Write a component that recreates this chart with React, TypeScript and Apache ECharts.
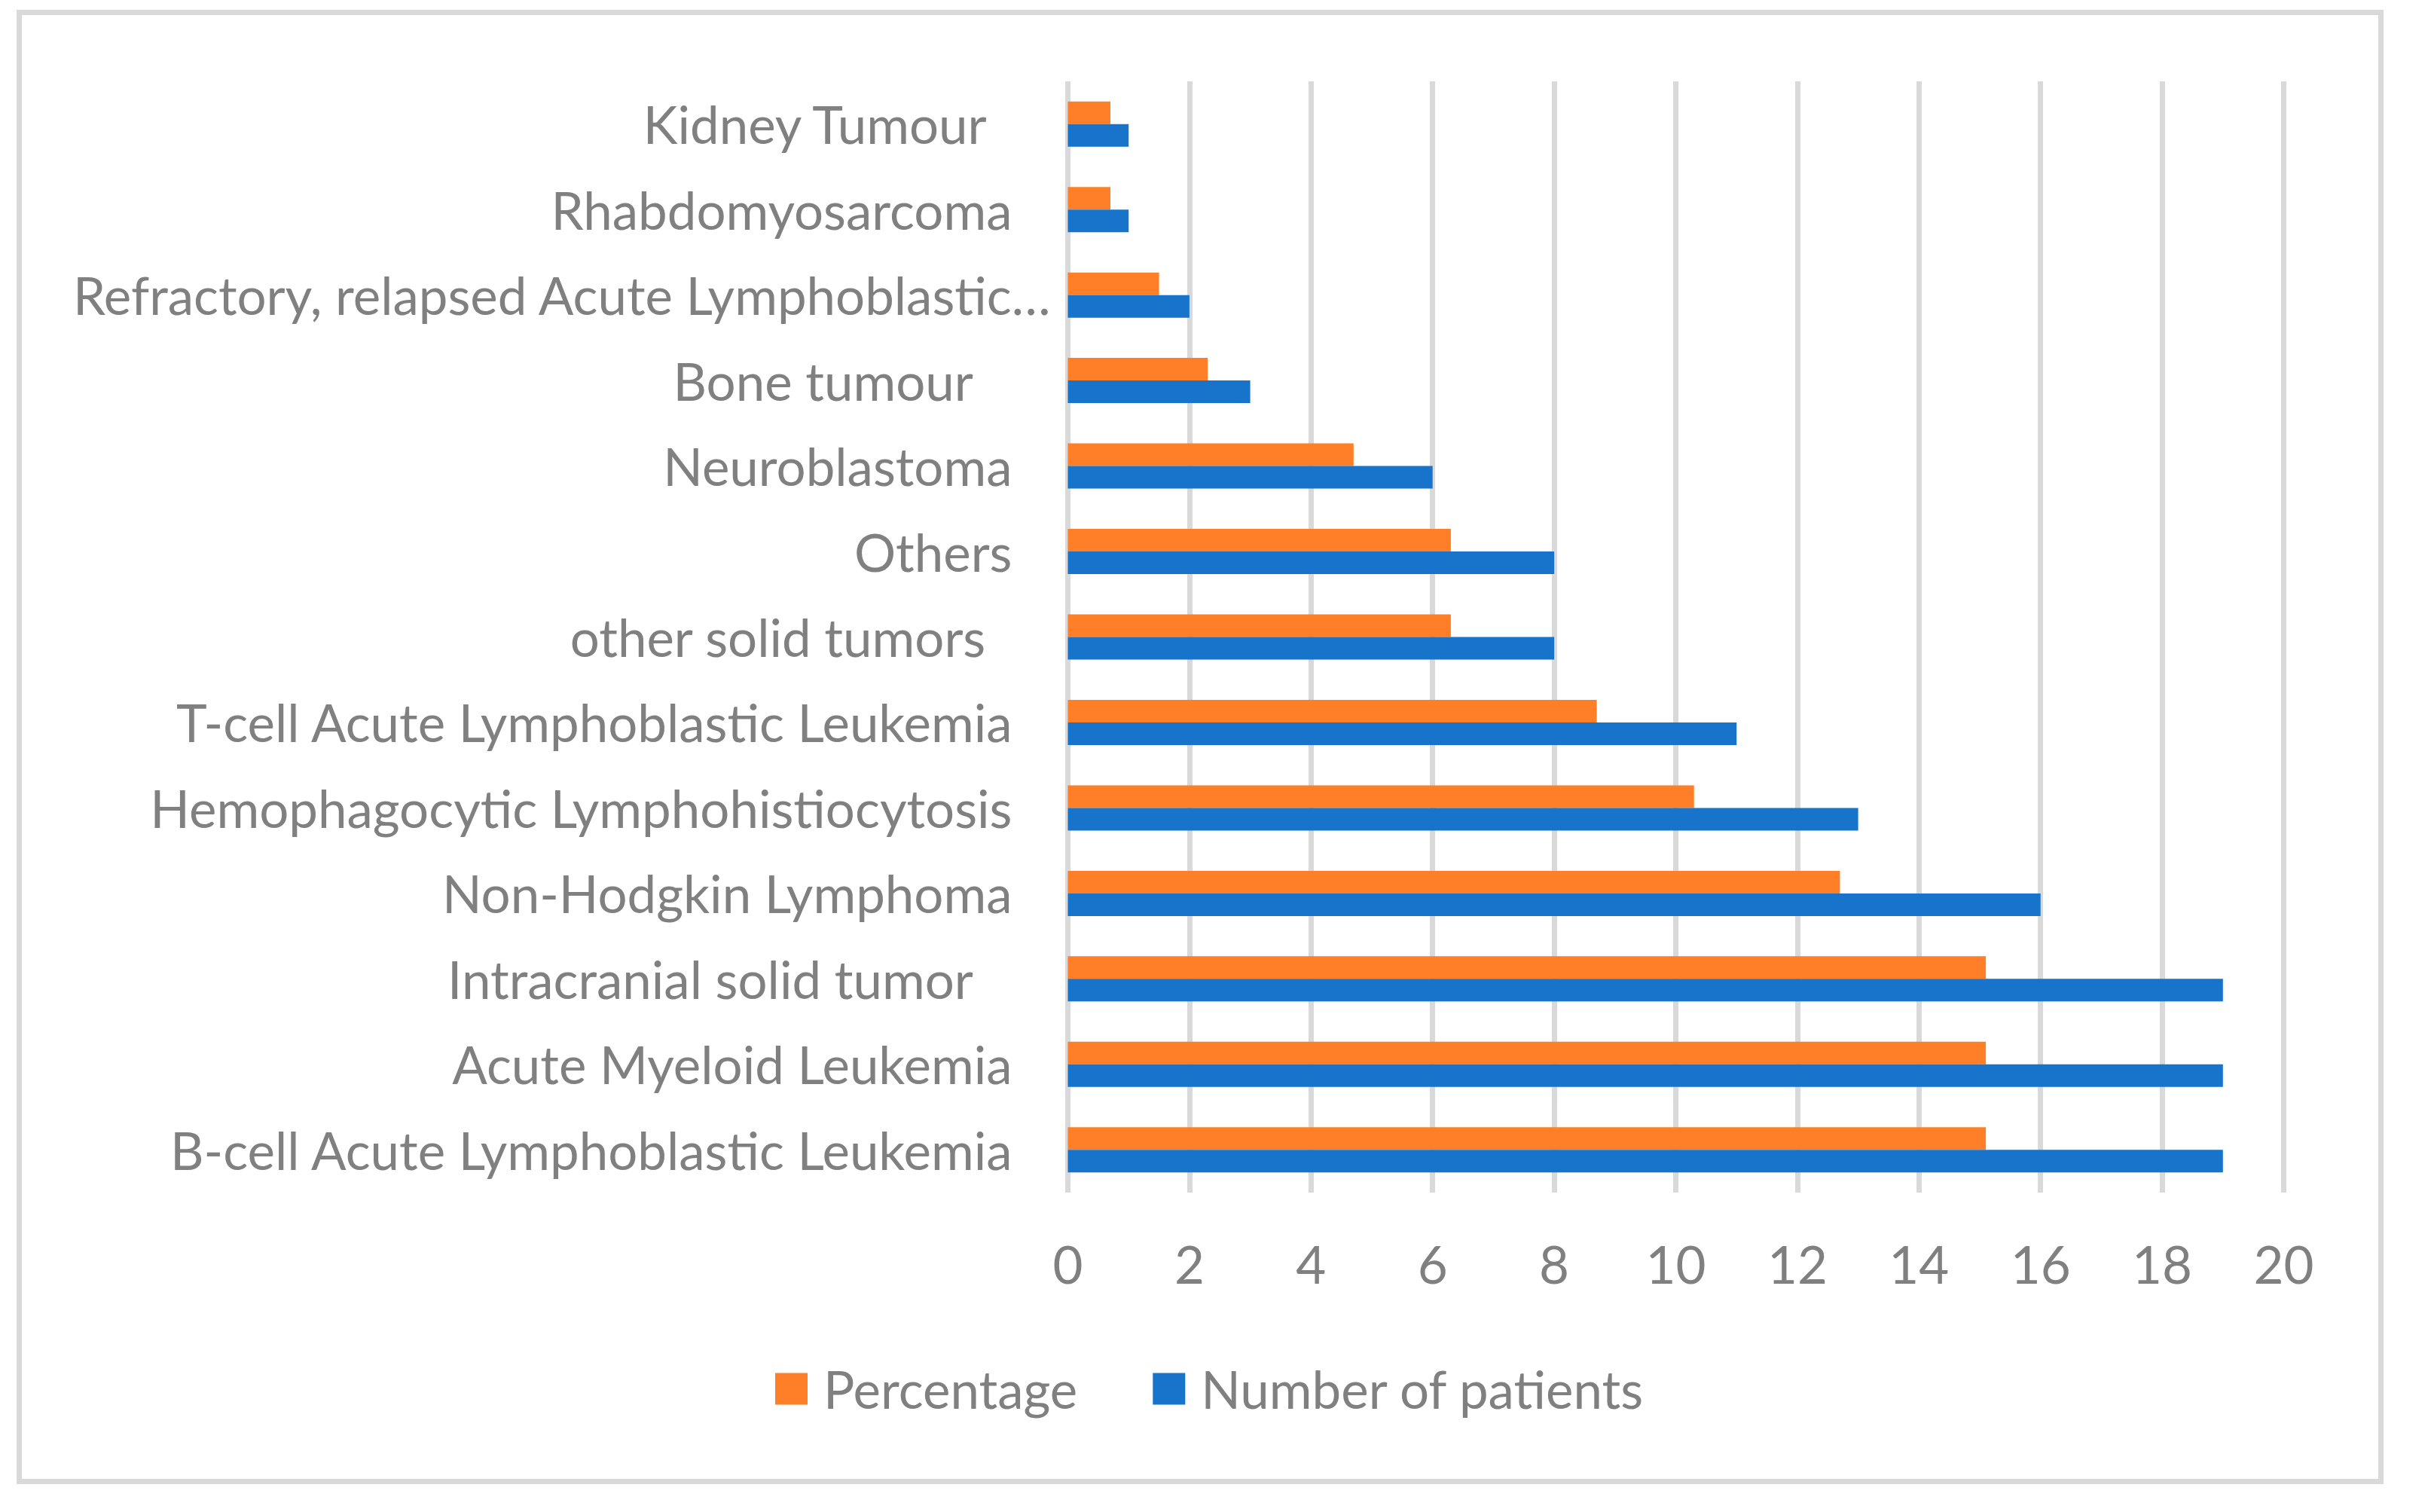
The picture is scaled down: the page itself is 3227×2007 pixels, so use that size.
import React, { useEffect, useRef } from 'react';
import * as echarts from 'echarts';

const categories = [
  'Kidney Tumour  ',
  'Rhabdomyosarcoma',
  'Refractory, relapsed Acute Lymphoblastic…',
  'Bone tumour   ',
  'Neuroblastoma',
  'Others',
  'other solid tumors  ',
  'T-cell Acute Lymphoblastic Leukemia',
  'Hemophagocytic Lymphohistiocytosis',
  'Non-Hodgkin Lymphoma',
  'Intracranial solid tumor   ',
  'Acute Myeloid Leukemia',
  'B-cell Acute Lymphoblastic Leukemia',
];
const percentage = [0.7, 0.7, 1.5, 2.3, 4.7, 6.3, 6.3, 8.7, 10.3, 12.7, 15.1, 15.1, 15.1];
const patients = [1, 1, 2, 3, 6, 8, 8, 11, 13, 16, 19, 19, 19];
const seriesNames = ['Percentage', 'Number of patients'];
const xMin = 0;
const xMax = 20;
const xInterval = 2;

const FONT = 'Lato';
const FS = 69;
const GRAY = '#808080';
const GRID = '#d9d9d9';

export default function App() {
  const ref = useRef<HTMLDivElement>(null);
  useEffect(() => {
    const chart = echarts.init(ref.current!, null, { renderer: 'svg' });
    chart.setOption({
      animation: false,
      backgroundColor: '#ffffff',
      textStyle: { fontFamily: FONT },
      graphic: [
        {
          type: 'rect',
          shape: { x: 25.5, y: 16.5, width: 3135, height: 1950 },
          style: { fill: 'none', stroke: GRID, lineWidth: 7 },
          silent: true,
        },
      ],
      grid: { left: 1417.5, right: 3227 - 3031.5, top: 108, bottom: 2007 - 1583, containLabel: false },
      legend: {
        data: seriesNames,
        left: 1024,
        top: 1804,
        icon: 'rect',
        itemWidth: 43,
        itemHeight: 42,
        itemGap: 100,
        textStyle: { fontFamily: FONT, fontSize: FS, color: GRAY, padding: [0, 0, 0, 16] },
      },
      xAxis: {
        type: 'value',
        min: xMin,
        max: xMax,
        interval: xInterval,
        axisLine: { show: false },
        axisTick: { show: false },
        axisLabel: { fontFamily: FONT, fontSize: FS, color: GRAY, margin: 60 },
        splitLine: { show: true, lineStyle: { color: GRID, width: 7 } },
      },
      yAxis: {
        type: 'category',
        data: categories,
        inverse: true,
        axisLine: { show: false },
        axisTick: { show: false },
        axisLabel: {
          margin: 23,
          formatter: (v: string) => {
            const t = v.replace(/ +$/, (m) => '\u00a0'.repeat(m.length));
            return v.endsWith('…') ? `{t|${t}}` : `{n|${t}}`;
          },
          rich: {
            t: { fontFamily: FONT, fontSize: FS, color: GRAY },
            n: { fontFamily: FONT, fontSize: FS, color: GRAY, padding: [0, 51, 0, 0] },
          },
        },
      },
      series: [
        {
          name: seriesNames[0],
          type: 'bar',
          data: percentage,
          barWidth: 30,
          barGap: '0%',
          itemStyle: { color: '#FE7F27' },
        },
        {
          name: seriesNames[1],
          type: 'bar',
          data: patients,
          barWidth: 30,
          barGap: '0%',
          itemStyle: { color: '#1774CA' },
        },
      ],
    });
    return () => chart.dispose();
  }, []);
  return (
    <div
      ref={ref}
      style={{ position: 'fixed', left: 0, top: 0, width: 3227, height: 2007, background: '#fff' }}
    />
  );
}
